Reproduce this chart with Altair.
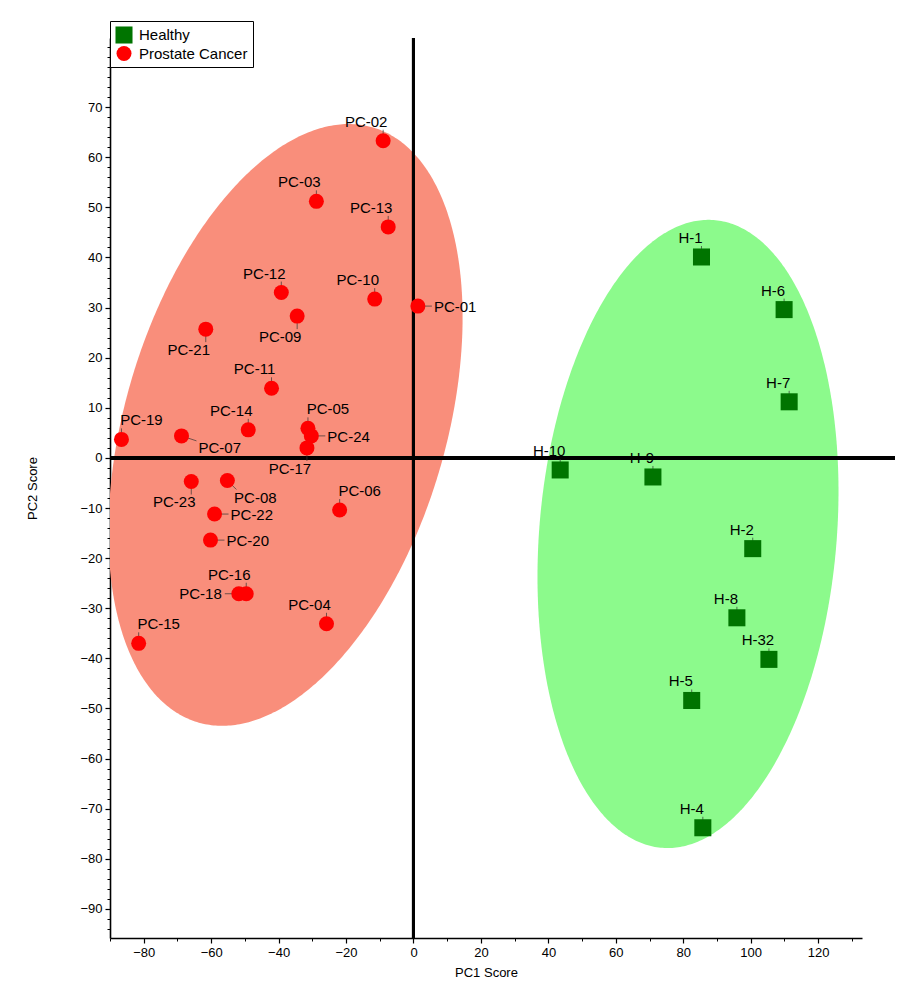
import numpy as np
import pandas as pd
import altair as alt

# ---------------- data ----------------
pc_names = ["PC-01", "PC-02", "PC-03", "PC-04", "PC-05", "PC-06", "PC-07", "PC-08",
            "PC-09", "PC-10", "PC-11", "PC-12", "PC-13", "PC-14", "PC-15", "PC-16",
            "PC-17", "PC-18", "PC-19", "PC-20", "PC-21", "PC-22", "PC-23", "PC-24"]
pc_pc1 = [1.3, -9.0, -28.8, -25.8, -31.3, -21.9, -68.8, -55.2,
          -34.5, -11.5, -42.1, -39.2, -7.5, -49.0, -81.5, -49.6,
          -31.6, -51.8, -86.6, -60.2, -61.6, -59.0, -65.9, -30.3]
pc_pc2 = [30.3, 63.3, 51.2, -33.1, 5.9, -10.4, 4.4, -4.5,
          28.3, 31.7, 13.9, 33.0, 46.1, 5.6, -37.0, -27.1,
          2.0, -27.1, 3.7, -16.4, 25.7, -11.2, -4.7, 4.4]
pc_label_side = ["r", "ul", "ul", "ul", "ur", "ur", "rd", "dr",
                 "ll", "ul", "ul", "ul", "ul", "ul", "ur", "ul",
                 "ll", "l", "ur", "r", "ll", "r", "ll", "r"]

h_names = ["H-1", "H-2", "H-4", "H-5", "H-6", "H-7", "H-8", "H-9", "H-10", "H-32"]
h_pc1 = [85.4, 100.6, 85.8, 82.5, 109.9, 111.4, 95.9, 71.0, 43.5, 105.4]
h_pc2 = [40.1, -18.1, -73.8, -48.4, 29.6, 11.2, -31.9, -3.8, -2.4, -40.2]
h_label_side = ["hu"] * len(h_names)

groups = ["Healthy", "Prostate Cancer"]

# confidence ellipses: centre and two conjugate semi-diameters (data units)
ellipse_pc = dict(cx=-37.96, cy=6.59, ax=25.95, bx=-45.66, ay=59.36, by=9.04)
ellipse_h = dict(cx=81.4, cy=-15.17, ax=7.82, bx=-43.94, ay=62.63, by=2.48)

x_ticks = list(range(-80, 121, 20))
y_ticks = list(range(-90, 71, 10))
x_minor = list(range(-90, 131, 10))
y_minor = list(range(-94, 83, 2))

X_DOMAIN = [-90, 133]
Y_DOMAIN = [-95.8, 83.8]

# ---------------- tables ----------------
pts = pd.DataFrame({
    "name": pc_names + h_names,
    "pc1": pc_pc1 + h_pc1,
    "pc2": pc_pc2 + h_pc2,
    "group": ["Prostate Cancer"] * len(pc_names) + ["Healthy"] * len(h_names),
    "side": pc_label_side + h_label_side,
})


def ellipse_frame(e, n=241):
    r = np.hypot(e["ax"], e["bx"])
    alpha = np.arctan2(e["bx"], e["ax"])
    s = np.linspace(0, np.pi, n)
    t1, t2 = alpha + s, alpha - s
    return pd.DataFrame({
        "ex": e["cx"] + r * np.cos(s),
        "ey1": e["cy"] + e["ay"] * np.cos(t1) + e["by"] * np.sin(t1),
        "ey2": e["cy"] + e["ay"] * np.cos(t2) + e["by"] * np.sin(t2),
    })


FONT = "Liberation Sans"
xs = alt.Scale(domain=X_DOMAIN, nice=False, zero=False)
ys = alt.Scale(domain=Y_DOMAIN, nice=False, zero=False)

# ---------------- ellipse layer (carries minor ticks) ----------------
minor_x_axis = alt.Axis(orient="bottom", values=x_minor, labels=False, domain=False,
                        tickSize=3, tickColor="black", tickWidth=1, title=None, grid=False)
minor_y_axis = alt.Axis(orient="left", values=y_minor, labels=False, domain=False,
                        tickSize=3, tickColor="black", tickWidth=1, title=None, grid=False)


def ellipse_area(e, color):
    return alt.Chart(ellipse_frame(e)).mark_area(color=color, opacity=1, clip=True).encode(
        x=alt.X("ex:Q", scale=xs, axis=minor_x_axis),
        y=alt.Y("ey1:Q", scale=ys, axis=minor_y_axis),
        y2="ey2:Q",
    )


ellipses = alt.layer(ellipse_area(ellipse_pc, "#F98E7B"), ellipse_area(ellipse_h, "#8CFA8C"))

# ---------------- main layer ----------------
major_x_axis = alt.Axis(orient="bottom", values=x_ticks, title="PC1 Score", grid=False,
                        tickSize=5, tickColor="black", tickWidth=1.2,
                        domainColor="black", domainWidth=1.6,
                        labelFont=FONT, labelFontSize=13, labelColor="black", labelPadding=3,
                        titleFont=FONT, titleFontSize=13, titleFontWeight="normal",
                        titleColor="black", titlePadding=7)
major_y_axis = alt.Axis(orient="left", values=y_ticks, title="PC2 Score", grid=False,
                        tickSize=5, tickColor="black", tickWidth=1.2,
                        domainColor="black", domainWidth=1.6,
                        labelFont=FONT, labelFontSize=13, labelColor="black", labelPadding=3,
                        titleFont=FONT, titleFontSize=13, titleFontWeight="normal",
                        titleColor="black", titlePadding=40)

base = alt.Chart(pts)

vline = base.mark_rule(color="black", strokeWidth=3).encode(
    x=alt.X(datum=0, scale=xs, axis=major_x_axis))
hline = base.mark_rule(color="black", strokeWidth=3).encode(
    y=alt.Y(datum=0, scale=ys, axis=major_y_axis),
    x=alt.value(0), x2=alt.value(785))

# label placement styles: text offset, alignment and leader-line end
sides = {
    "ul": dict(dx=-17, dy=-19, align="center", lx=0, ly=-11),
    "ur": dict(dx=20, dy=-19, align="center", lx=0, ly=-11),
    "ll": dict(dx=-17, dy=21, align="center", lx=0, ly=13),
    "r": dict(dx=16, dy=1, align="left", lx=14, ly=0),
    "l": dict(dx=-17, dy=0, align="right", lx=-14, ly=0),
    "dr": dict(dx=28, dy=18, align="center", lx=9, ly=9),
    "rd": dict(dx=17, dy=12, align="left", lx=15, ly=5),
    "hu": dict(dx=-11, dy=-19, align="center", lx=0, ly=-11),
}

leaders = []
labels = []
for key, st in sides.items():
    if key not in set(pts["side"]):
        continue
    flt = alt.datum.side == key
    leaders.append(base.transform_filter(flt).mark_rule(
        color="#333333", strokeWidth=0.7, x2Offset=st["lx"], y2Offset=st["ly"]).encode(
        x=alt.X("pc1:Q", scale=xs, axis=major_x_axis),
        x2="pc1:Q",
        y=alt.Y("pc2:Q", scale=ys, axis=major_y_axis),
        y2="pc2:Q"))
    labels.append(base.transform_filter(flt).mark_text(
        font=FONT, fontSize=15, color="black", dx=st["dx"], dy=st["dy"],
        align=st["align"], baseline="middle").encode(
        x=alt.X("pc1:Q", scale=xs, axis=major_x_axis),
        y=alt.Y("pc2:Q", scale=ys, axis=major_y_axis),
        text="name:N"))

legend = alt.Legend(title=None, orient="none", legendX=0, legendY=-17,
                    strokeColor="black", fillColor="white", padding=5,
                    labelFont=FONT, labelFontSize=15, labelColor="black", labelOffset=6,
                    labelExpr="datum.label + '\u00a0\u00a0\u00a0'",
                    symbolSize=270, symbolStrokeWidth=0, rowPadding=2)

points = base.mark_point(filled=True, opacity=1, strokeWidth=0).encode(
    x=alt.X("pc1:Q", scale=xs, axis=major_x_axis),
    y=alt.Y("pc2:Q", scale=ys, axis=major_y_axis),
    color=alt.Color("group:N", scale=alt.Scale(domain=groups, range=["#007400", "#FF0000"]),
                    legend=legend),
    shape=alt.Shape("group:N", scale=alt.Scale(domain=groups, range=["square", "circle"]),
                    legend=legend),
    size=alt.Size("group:N", scale=alt.Scale(domain=groups, range=[290, 225]), legend=None),
)

main = alt.layer(vline, hline, *leaders, points, *labels)

chart = alt.layer(ellipses, main).resolve_scale(x="independent", y="independent").properties(
    width=752, height=900,
    padding={"left": 102, "top": 30, "right": 40, "bottom": 50},
    autosize=alt.AutoSizeParams(type="none"),
    background="white",
).configure_view(stroke=None)

chart.save("out.html", embed_options={"renderer": "svg", "actions": False})
